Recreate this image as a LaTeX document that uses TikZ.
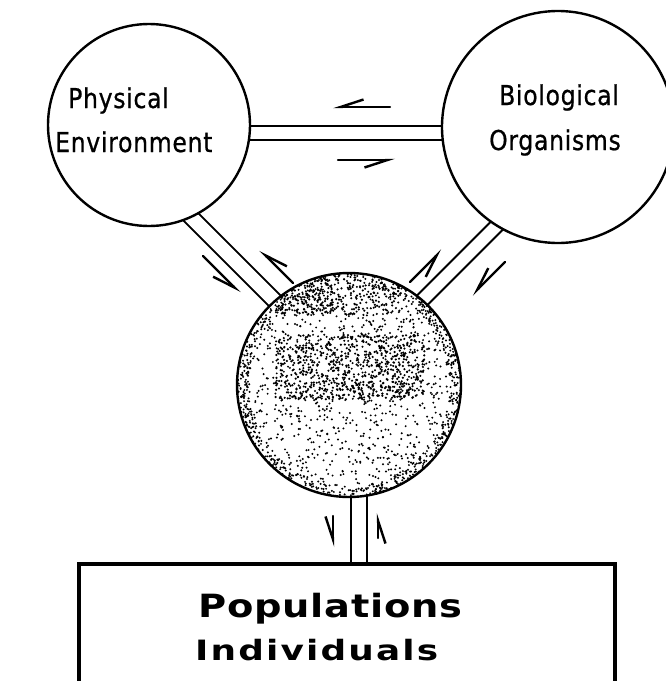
\documentclass[tikz,border=0pt]{standalone}
\usepackage{fontspec}
\usepackage{graphicx}
\setmainfont{DejaVu Sans}
\newfontfamily\circfont[LetterSpace=3,FakeBold=0.8]{DejaVu Sans}
\newfontfamily\popfont[LetterSpace=2]{DejaVu Sans}
\newfontfamily\indfont[LetterSpace=6]{DejaVu Sans}
\usetikzlibrary{arrows.meta}
\pgfdeclarelayer{bg}
\pgfsetlayers{bg,main}
\begin{document}
\begin{tikzpicture}[x=1pt,y=-1pt,
  ring/.style={circle,draw,line width=2.4pt,fill=white,inner sep=0pt,outer sep=0pt},
  track/.style={draw,line width=2pt,double=white,double distance=#1},
  harp/.style={line width=2.4pt,line cap=round,-{Straight Barb[right,length=23pt,width=15pt]}},
  lbl/.style={inner sep=0pt,anchor=base west,font=\circfont\fontsize{21}{25}\selectfont},
  dot/.style={fill=black}]
\useasboundingbox (0,0) rectangle (665,681);

% outer circles
\node[ring,minimum size=202pt] (pe) at (149,125) {};
\node[ring,minimum size=232pt] (bo) at (558,127) {};

% population box (open at the bottom edge of the page)
\node[draw,fill=white,line width=3.5pt,inner sep=0pt,minimum width=536pt,minimum height=123pt,anchor=north west] (pop) at (77,562) {};

% central circle with stippled texture
\node[circle,fill=white,inner sep=0pt,minimum size=224pt] (cc) at (349,385) {};
\begin{scope}
  \clip (cc.center) circle (112pt);
  \pgfmathsetseed{12}
  \foreach \i in {1,...,1300}{
    \pgfmathsetmacro\px{237+224*rnd}
    \pgfmathsetmacro\py{273+224*rnd}
    \fill[dot] (\px,\py) circle (1.1pt);
  }
  \foreach \i in {1,...,700}{
    \pgfmathsetmacro\px{275+150*rnd}
    \pgfmathsetmacro\py{335+65*rnd}
    \fill[dot] (\px,\py) circle (1.2pt);
  }
  \foreach \i in {1,...,250}{
    \pgfmathsetmacro\px{280+120*rnd}
    \pgfmathsetmacro\py{285+30*rnd}
    \fill[dot] (\px,\py) circle (1.2pt);
  }
  \foreach \i in {1,...,600}{
    \pgfmathsetmacro\ang{360*rnd}
    \pgfmathsetmacro\rr{101+11*rnd}
    \fill[dot] ([shift={(\ang:\rr pt)}]cc.center) circle (1.1pt);
  }
\end{scope}
\node[circle,draw,line width=2.4pt,inner sep=0pt,minimum size=224pt] (ccb) at (cc) {};

% double tracks (behind the shapes)
\coordinate (h1) at (240,132.5);
\coordinate (h2) at (455,132.5);
\coordinate (l1) at (160,186);
\coordinate (l2) at (300,326);
\coordinate (r1) at (520,202.5);
\coordinate (r2) at (400,322.5);
\coordinate (v1) at (359,450);
\begin{pgfonlayer}{bg}
  \draw[track=12pt] (h1) -- (h2);
  \draw[track=13.5pt] (l1) -- (l2);
  \draw[track=12pt] (r1) -- (r2);
  \draw[track=14pt] (v1) -- (v1 |- pop.north);
\end{pgfonlayer}

% harpoon arrows
\coordinate (a1s) at (390,107); \coordinate (a1e) at (333,107);
\coordinate (a2s) at (338,160); \coordinate (a2e) at (395,160);
\coordinate (a3s) at (203,256); \coordinate (a3e) at (240,293);
\coordinate (a4s) at (293,283); \coordinate (a4e) at (260,250);
\coordinate (a5s) at (410,282); \coordinate (a5e) at (442,250);
\coordinate (a6s) at (505,262); \coordinate (a6e) at (472,295);
\coordinate (a7s) at (333,516); \coordinate (a7e) at (333,547);
\coordinate (a8s) at (378,538); \coordinate (a8e) at (378,513);
\draw[harp] (a1s) -- (a1e);
\draw[harp] (a2s) -- (a2e);
\draw[harp] (a3s) -- (a3e);
\draw[harp] (a4s) -- (a4e);
\draw[harp] (a5s) -- (a5e);
\draw[harp] (a6s) -- (a6e);
\draw[harp] (a7s) -- (a7e);
\draw[harp] (a8s) -- (a8e);

% labels
\node[lbl] (t1) at (68,108) {\scalebox{1.12}[1.3]{Physical}};
\node[lbl] (t2) at (55,152) {\scalebox{1.12}[1.3]{Environment}};
\node[lbl] (t3) at (499,105) {\scalebox{1.12}[1.3]{Biological}};
\node[lbl] (t4) at (489,150) {\scalebox{1.12}[1.3]{Organisms}};
\node[inner sep=0pt,anchor=base west,font=\popfont\bfseries\fontsize{32}{36}\selectfont] (t5) at (198,617) {\scalebox{1.2}[1]{Populations}};
\node[inner sep=0pt,anchor=base west,font=\indfont\bfseries\fontsize{28}{32}\selectfont] (t6) at (195,660) {\scalebox{1.28}[1]{Individuals}};
\end{tikzpicture}
\end{document}
